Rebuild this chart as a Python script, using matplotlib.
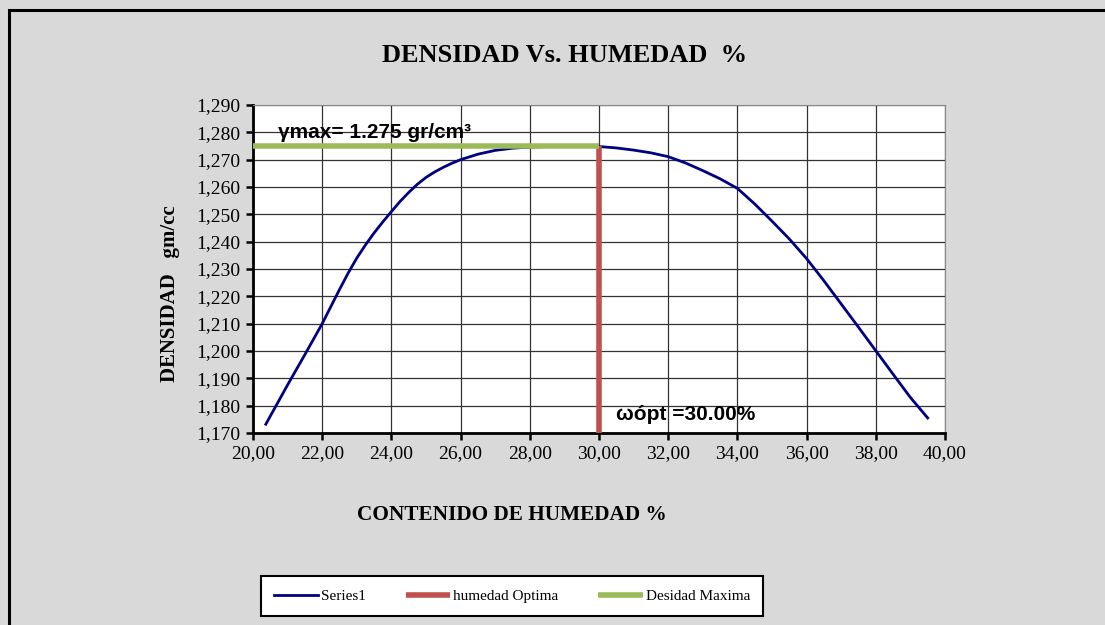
import matplotlib
matplotlib.use("Agg")
import matplotlib.pyplot as plt
from matplotlib.ticker import FuncFormatter, MultipleLocator
from matplotlib.patches import Rectangle

# values
humedad = [20.37, 21.0, 21.5, 22.0, 22.5, 22.75, 23.0, 23.25, 23.5, 23.75,
           24.0, 24.25, 24.5, 24.75, 25.0, 25.25, 25.5, 25.75, 26.0, 26.5,
           27.0, 27.5, 28.0, 28.5, 29.0, 29.5, 30.0, 30.5, 31.0, 31.5,
           32.0, 32.5, 33.0, 33.5, 34.0, 34.5, 35.0, 35.5, 36.0, 36.5,
           37.0, 37.5, 38.0, 38.5, 39.0, 39.5]
densidad = [1.1732, 1.1876, 1.1987, 1.2100, 1.2225, 1.2285, 1.2340, 1.2388,
            1.2432, 1.2472, 1.2510, 1.2547, 1.2580, 1.2610, 1.2635, 1.2655,
            1.2672, 1.2687, 1.2700, 1.2720, 1.2734, 1.2742, 1.2746, 1.2748,
            1.2750, 1.2750, 1.2748, 1.2743, 1.2735, 1.2725, 1.2711, 1.2688,
            1.2660, 1.2630, 1.2595, 1.2538, 1.2475, 1.2410, 1.2338, 1.2257,
            1.2172, 1.2087, 1.2001, 1.1915, 1.1830, 1.1755]

w_opt = 30.0
d_max = 1.275
opt_x = [w_opt, w_opt]
opt_y = [1.170, d_max]
max_x = [20.0, w_opt]
max_y = [d_max, d_max]

serif = "Liberation Serif"
sans = "Liberation Sans"

fig = plt.figure(figsize=(11.05, 6.25), dpi=100)
fig.patch.set_facecolor("#D9D9D9")

# outer chart border (top and left visible)
fig.patches.append(Rectangle((9 / 1105, -0.05), 1.1, 1 - 10 / 625 + 0.05,
                             transform=fig.transFigure, fill=False,
                             edgecolor="black", linewidth=2.2, zorder=0))

ax = fig.add_axes([253 / 1105, 1 - 433 / 625, 692 / 1105, 328 / 625])
ax.set_facecolor("white")

ax.plot(humedad, densidad, color="#000080", linewidth=2, label="Series1", zorder=3)
ax.plot(opt_x, opt_y, color="#C0504D", linewidth=4, label="humedad Optima",
        solid_capstyle="butt", zorder=4)
ax.plot(max_x, max_y, color="#9BBB59", linewidth=4, label="Desidad Maxima",
        solid_capstyle="butt", zorder=4)

ax.set_xlim(20, 40)
ax.set_ylim(1.170, 1.290)
ax.xaxis.set_major_locator(MultipleLocator(2))
ax.yaxis.set_major_locator(MultipleLocator(0.01))
ax.xaxis.set_major_formatter(FuncFormatter(lambda v, p: f"{v:.2f}".replace(".", ",")))
ax.yaxis.set_major_formatter(FuncFormatter(lambda v, p: f"{v:.3f}".replace(".", ",")))
ax.grid(True, color="#333333", linewidth=0.9)
ax.set_axisbelow(True)

for lab in ax.get_xticklabels() + ax.get_yticklabels():
    lab.set_family(serif)
    lab.set_fontsize(14)
ax.tick_params(direction="out", length=5, width=1.8, color="black", pad=4)

ax.spines["left"].set_linewidth(2)
ax.spines["bottom"].set_linewidth(2)
ax.spines["top"].set_color("#888888")
ax.spines["right"].set_color("#888888")

ax.text(20.72, 1.2800, "γmax= 1.275 gr/cm³", family=sans, fontweight="bold",
        fontsize=15, va="center", ha="left", zorder=5)
ax.text(30.5, 1.1768, "ωópt =30.00%", family=sans, fontweight="bold",
        fontsize=15, va="center", ha="left", zorder=5)

fig.text(565 / 1105, 1 - 55 / 625, "DENSIDAD Vs. HUMEDAD  %", family=serif,
         fontweight="bold", fontsize=19, ha="center", va="center")
fig.text(512 / 1105, 1 - 515 / 625, "CONTENIDO DE HUMEDAD %", family=serif,
         fontweight="bold", fontsize=15.3, ha="center", va="center")
fig.text(170 / 1105, 1 - 294 / 625, "DENSIDAD   gm/cc", family=serif,
         fontweight="bold", fontsize=15, ha="center", va="center", rotation=90)

leg = fig.legend(loc="center", bbox_to_anchor=(512 / 1105, 1 - 596 / 625),
                 ncol=3, frameon=True, fancybox=False, prop={"family": serif, "size": 11},
                 handlelength=2.9, columnspacing=2.6, handletextpad=0.2,
                 borderpad=0.85)
leg.get_frame().set_edgecolor("black")
leg.get_frame().set_linewidth(1.5)
leg.get_frame().set_facecolor("white")
leg.get_frame().set_alpha(1)

fig.savefig("out.png", dpi=100, facecolor=fig.get_facecolor())
